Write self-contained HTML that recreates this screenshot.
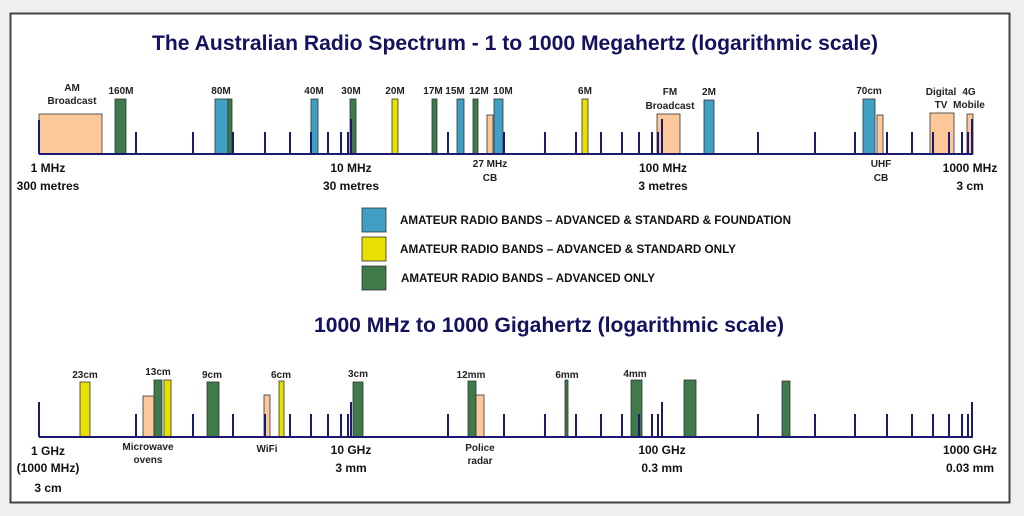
<!DOCTYPE html>
<html><head><meta charset="utf-8"><style>
html,body{margin:0;padding:0;background:#efefef;}
svg{display:block;font-family:"Liberation Sans",Arial,sans-serif;}
</style></head><body>
<svg width="1024" height="516" viewBox="0 0 1024 516" xmlns="http://www.w3.org/2000/svg">
<rect x="0" y="0" width="1024" height="516" fill="#efefef"/>
<rect x="10.5" y="13.5" width="999" height="489" fill="#fff" stroke="#444" stroke-width="2"/>
<g fill="#12125e" font-weight="bold" font-size="21">
<text x="152" y="50" textLength="726" lengthAdjust="spacingAndGlyphs">The Australian Radio Spectrum  - 1 to 1000 Megahertz  (logarithmic scale)</text>
<text x="314" y="332" textLength="470" lengthAdjust="spacingAndGlyphs">1000 MHz to 1000 Gigahertz  (logarithmic scale)</text>
</g>
<!-- TOP BANDS -->
<g stroke="#333" stroke-width="0.8">
<rect x="39" y="114" width="63" height="40" fill="#fcc89a"/>
<rect x="115" y="99" width="11" height="55" fill="#3e7a4a"/>
<rect x="215" y="99" width="13" height="55" fill="#3fa0c4"/>
<rect x="228" y="99" width="4" height="55" fill="#3e7a4a"/>
<rect x="311" y="99" width="7" height="55" fill="#3fa0c4"/>
<rect x="350" y="99" width="6" height="55" fill="#3e7a4a"/>
<rect x="392" y="99" width="6" height="55" fill="#e8e000"/>
<rect x="432" y="99" width="5" height="55" fill="#3e7a4a"/>
<rect x="457" y="99" width="7" height="55" fill="#3fa0c4"/>
<rect x="473" y="99" width="5" height="55" fill="#3e7a4a"/>
<rect x="487" y="115" width="6" height="39" fill="#fcc89a"/>
<rect x="494" y="99" width="9" height="55" fill="#3fa0c4"/>
<rect x="582" y="99" width="6" height="55" fill="#e8e000"/>
<rect x="657" y="114" width="23" height="40" fill="#fcc89a"/>
<rect x="704" y="100" width="10" height="54" fill="#3fa0c4"/>
<rect x="863" y="99" width="12" height="55" fill="#3fa0c4"/>
<rect x="877" y="115" width="6" height="39" fill="#fcc89a"/>
<rect x="930" y="113" width="24" height="41" fill="#fcc89a"/>
<rect x="967" y="114" width="6" height="40" fill="#fcc89a"/>
</g>
<!-- BOTTOM BANDS -->
<g stroke="#333" stroke-width="0.8">
<rect x="80" y="382" width="10" height="55" fill="#e8e000"/>
<rect x="143" y="396" width="11" height="41" fill="#fcc89a"/>
<rect x="154" y="380" width="8" height="57" fill="#3e7a4a"/>
<rect x="164" y="380" width="7" height="57" fill="#e8e000"/>
<rect x="207" y="382" width="12" height="55" fill="#3e7a4a"/>
<rect x="264" y="395" width="6" height="42" fill="#fcc89a"/>
<rect x="279" y="381" width="5" height="56" fill="#e8e000"/>
<rect x="353" y="382" width="10" height="55" fill="#3e7a4a"/>
<rect x="468" y="381" width="8" height="56" fill="#3e7a4a"/>
<rect x="476" y="395" width="8" height="42" fill="#fcc89a"/>
<rect x="565" y="380" width="3" height="57" fill="#3e7a4a"/>
<rect x="631" y="380" width="11" height="57" fill="#3e7a4a"/>
<rect x="684" y="380" width="12" height="57" fill="#3e7a4a"/>
<rect x="782" y="381" width="8" height="56" fill="#3e7a4a"/>
</g>
<!-- AXES -->
<g stroke="#1a1a6e" stroke-width="2" fill="none">
<path d="M39 154H973"/>
<path d="M39 154V120M351 154V119M662 154V119M972 154V119"/>
<path d="M136 154V132M193 154V132M233 154V132M265 154V132M290 154V132M311 154V132M328 154V132M341 154V132M348 154V132
M448 154V132M504 154V132M545 154V132M576 154V132M601 154V132M622 154V132M639 154V132M652 154V132M658 154V132
M758 154V132M815 154V132M855 154V132M887 154V132M912 154V132M933 154V132M949 154V132M962 154V132M968 154V132"/>
<path d="M39 437H973"/>
<path d="M39 437V402M351 437V402M662 437V402M972 437V402"/>
<path d="M136 437V414M193 437V414M233 437V414M265 437V414M290 437V414M311 437V414M328 437V414M341 437V414M348 437V414
M448 437V414M504 437V414M545 437V414M576 437V414M601 437V414M622 437V414M639 437V414M652 437V414M658 437V414
M758 437V414M815 437V414M855 437V414M887 437V414M912 437V414M933 437V414M949 437V414M962 437V414M968 437V414"/>
</g>
<!-- LEGEND -->
<g stroke="#333" stroke-width="0.8">
<rect x="362" y="208" width="24" height="24" fill="#3fa0c4"/>
<rect x="362" y="237" width="24" height="24" fill="#e8e000"/>
<rect x="362" y="266" width="24" height="24" fill="#3e7a4a"/>
</g>
<g fill="#111" font-weight="bold" font-size="12">
<text x="400" y="224" textLength="391" lengthAdjust="spacingAndGlyphs">AMATEUR RADIO BANDS – ADVANCED &amp; STANDARD  &amp; FOUNDATION</text>
<text x="400" y="253" textLength="336" lengthAdjust="spacingAndGlyphs">AMATEUR RADIO BANDS – ADVANCED &amp; STANDARD  ONLY</text>
<text x="401" y="282" textLength="254" lengthAdjust="spacingAndGlyphs">AMATEUR RADIO BANDS – ADVANCED ONLY</text>
</g>
<!-- top labels -->
<g fill="#222" font-weight="bold" font-size="10" text-anchor="middle">
<text x="72" y="91">AM</text><text x="72" y="104">Broadcast</text>
<text x="121" y="94">160M</text>
<text x="221" y="94">80M</text>
<text x="314" y="94">40M</text>
<text x="351" y="94">30M</text>
<text x="395" y="94">20M</text>
<text x="433" y="94">17M</text>
<text x="455" y="94">15M</text>
<text x="479" y="94">12M</text>
<text x="503" y="94">10M</text>
<text x="585" y="94">6M</text>
<text x="670" y="95">FM</text><text x="670" y="109">Broadcast</text>
<text x="709" y="95">2M</text>
<text x="869" y="94">70cm</text>
<text x="941" y="95">Digital</text><text x="941" y="108">TV</text>
<text x="969" y="95">4G</text><text x="969" y="108">Mobile</text>
<text x="490" y="167">27 MHz</text><text x="490" y="181">CB</text>
<text x="881" y="167">UHF</text><text x="881" y="181">CB</text>
<text x="148" y="450">Microwave</text><text x="148" y="463">ovens</text>
<text x="267" y="452">WiFi</text>
<text x="480" y="451">Police</text><text x="480" y="464">radar</text>
<text x="85" y="378">23cm</text>
<text x="158" y="375">13cm</text>
<text x="212" y="378">9cm</text>
<text x="281" y="378">6cm</text>
<text x="358" y="377">3cm</text>
<text x="471" y="378">12mm</text>
<text x="567" y="378">6mm</text>
<text x="635" y="377">4mm</text>
</g>
<g fill="#111" font-weight="bold" font-size="12" text-anchor="middle">
<text x="48" y="172">1 MHz</text><text x="48" y="190">300 metres</text>
<text x="351" y="172">10 MHz</text><text x="351" y="190">30 metres</text>
<text x="663" y="172">100 MHz</text><text x="663" y="190">3 metres</text>
<text x="970" y="172">1000 MHz</text><text x="970" y="190">3 cm</text>
<text x="48" y="455">1 GHz</text><text x="48" y="472">(1000 MHz)</text><text x="48" y="492">3 cm</text>
<text x="351" y="454">10 GHz</text><text x="351" y="472">3 mm</text>
<text x="662" y="454">100 GHz</text><text x="662" y="472">0.3 mm</text>
<text x="970" y="454">1000 GHz</text><text x="970" y="472">0.03 mm</text>
</g>
</svg>
</body></html>
